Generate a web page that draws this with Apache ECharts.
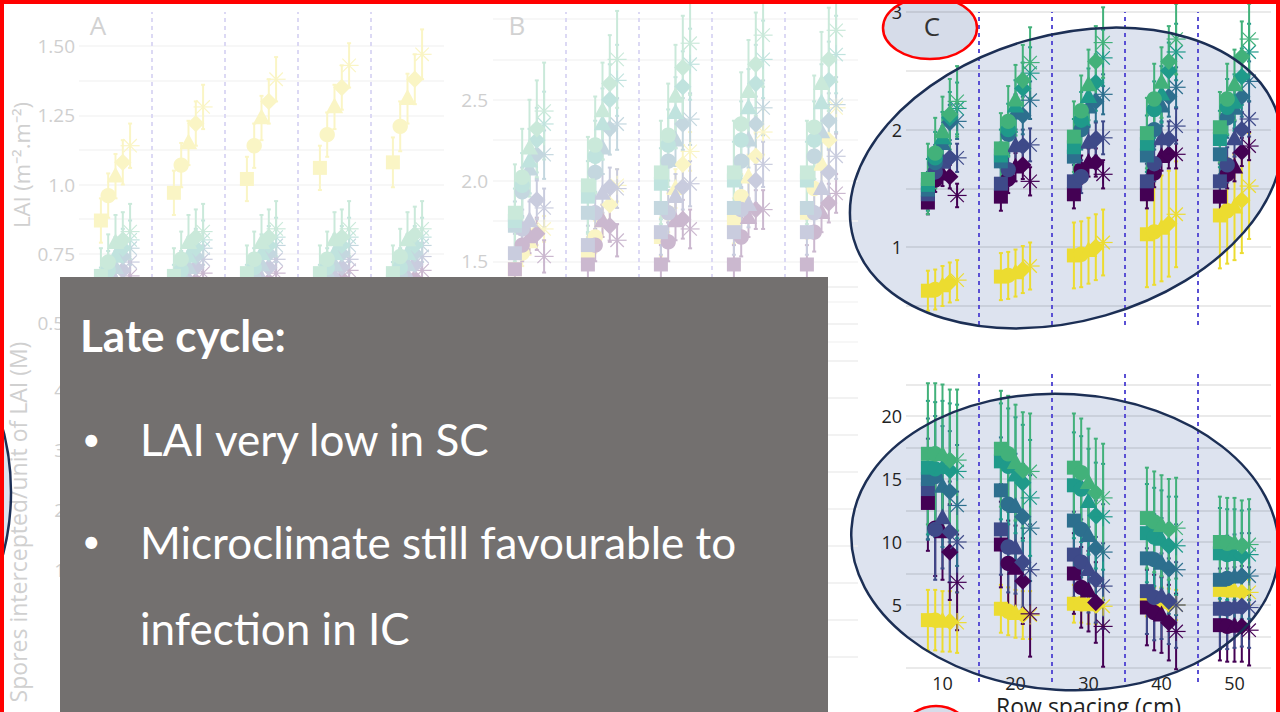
<!DOCTYPE html>
<html><head><meta charset="utf-8">
<script src="https://cdn.jsdelivr.net/npm/echarts@6/dist/echarts.min.js"></script>
<style>html,body{margin:0;padding:0;background:#fff;overflow:hidden}#c{width:1280px;height:712px}</style>
</head><body><div id="c"></div>
<script>
// ---------------- data ----------------
const rowSpacing = [10, 20, 30, 40, 50];
const separators = [15, 25, 35, 45];
const shapes = ['square', 'circle', 'triangle', 'diamond', 'asterisk'];
const drawOrder = ['yellow', 'dark', 'indigo', 'blue', 'teal', 'green'];

// Panel C, top: LAI (late cycle) — values per row spacing, per shape
const laiC_dark   = [[1.38,1.57,1.62,1.60,1.44],[1.43,1.58,1.68,1.70,1.56],[1.45,1.66,1.72,1.72,1.62],[1.45,1.63,1.77,1.79,1.79],[1.43,1.62,1.68,1.81,1.86]];
const laiC_indigo = [[1.45,1.64,1.72,1.76,1.76],[1.54,1.66,1.86,1.86,1.87],[1.56,1.60,1.89,1.92,1.93],[1.56,1.71,1.92,1.92,2.03],[1.56,1.70,1.92,2.00,2.09]];
const laiC_blue   = [[1.49,1.72,1.88,2.06,2.07],[1.73,1.96,2.14,2.12,2.25],[1.77,2.00,2.19,2.24,2.30],[1.78,2.00,2.20,2.28,2.36],[1.79,2.10,2.18,2.28,2.41]];
const laiC_teal   = [[1.53,1.76,1.93,2.10,2.18],[1.78,2.00,2.20,2.35,2.48],[1.85,2.08,2.28,2.40,2.61],[1.88,2.17,2.30,2.50,2.66],[1.92,2.19,2.23,2.45,2.66]];
const laiC_green  = [[1.58,1.80,1.98,2.13,2.24],[1.84,2.07,2.25,2.42,2.57],[1.94,2.16,2.38,2.58,2.74],[1.97,2.26,2.40,2.58,2.77],[2.02,2.26,2.38,2.62,2.77]];
const laiC_yellow = [[0.63,0.64,0.67,0.70,0.72],[0.75,0.76,0.78,0.81,0.84],[0.93,0.94,0.97,1.00,1.04],[1.11,1.13,1.16,1.20,1.28],[1.27,1.31,1.34,1.40,1.52]];
const laiC_err = {
  dark:[0.10,0.12,0.12,0.12,0.12], indigo:[0.12,0.14,0.14,0.15,0.15], blue:[0.15,0.16,0.17,0.17,0.17],
  teal:[0.22,0.22,0.24,0.24,0.24], green:[0.30,0.30,0.30,0.30,0.30], yellow:[0.17,0.20,0.28,0.45,0.45]
};

// Panel C, bottom: spores intercepted / unit of LAI
const sporesC_dark   = [[13.1,11.1,10.8,9.2,6.8],[9.8,8.3,7.9,6.9,4.3],[7.5,6.4,6.1,5.2,3.3],[4.8,4.4,4.2,3.6,2.9],[3.4,3.3,3.3,3.3,3.0]];
const sporesC_indigo = [[14.2,11.0,11.9,10.8,10.0],[11.0,9.6,9.5,8.4,7.8],[9.0,8.4,7.8,7.0,6.5],[6.1,5.6,5.7,5.3,5.0],[4.7,4.7,4.8,4.9,4.8]];
const sporesC_blue   = [[15.0,15.2,14.4,14.0,12.9],[14.1,13.0,12.8,12.0,11.1],[11.7,11.0,10.5,9.5,9.2],[8.7,8.6,8.3,7.9,7.8],[7.0,7.1,7.2,7.3,7.3]];
const sporesC_teal   = [[15.9,15.8,15.9,15.7,15.6],[16.4,16.0,15.3,14.7,13.5],[14.5,14.2,13.2,12.1,12.0],[10.7,10.4,10.2,9.7,9.7],[9.1,9.0,9.0,8.9,9.0]];
const sporesC_green  = [[17.0,17.0,16.9,16.5,16.5],[17.4,17.0,16.3,15.7,15.6],[15.9,15.5,14.7,13.9,13.5],[11.9,11.6,11.3,11.0,11.1],[10.0,9.9,9.9,9.7,9.8]];
const sporesC_yellow = [[3.8,3.8,3.7,3.7,3.6],[4.7,4.5,4.3,4.2,4.2],[5.1,5.1,5.0,5.0,4.9],[5.3,5.2,5.2,5.1,5.0],[6.2,6.2,6.1,6.0,6.0]];
const sporesC_err = {
  dark:[3.8,3.4,3.2,3.0,2.8], indigo:[4.0,3.6,3.4,3.4,3.2], blue:[4.8,4.2,3.8,3.6,3.4],
  teal:[5.3,4.6,4.2,3.9,3.6], green:[5.6,4.6,4.3,4.0,3.6], yellow:[2.4,1.9,1.5,1.2,1.0]
};

// Panel A (faded, top): LAI
const laiA_dark   = [[0.53,0.57,0.61,0.64,0.67],[0.54,0.58,0.62,0.65,0.68],[0.54,0.58,0.62,0.65,0.68],[0.55,0.59,0.63,0.66,0.69],[0.55,0.59,0.63,0.66,0.69]];
const laiA_indigo = [[0.57,0.61,0.65,0.69,0.72],[0.58,0.62,0.66,0.70,0.73],[0.58,0.62,0.66,0.70,0.73],[0.58,0.63,0.67,0.70,0.73],[0.59,0.63,0.67,0.71,0.74]];
const laiA_blue   = [[0.60,0.65,0.70,0.74,0.77],[0.61,0.66,0.70,0.74,0.77],[0.61,0.66,0.71,0.75,0.78],[0.61,0.66,0.71,0.75,0.78],[0.62,0.67,0.71,0.75,0.78]];
const laiA_teal   = [[0.63,0.69,0.74,0.77,0.80],[0.64,0.69,0.74,0.77,0.80],[0.64,0.70,0.75,0.78,0.81],[0.64,0.70,0.75,0.78,0.81],[0.65,0.70,0.75,0.78,0.81]];
const laiA_green  = [[0.67,0.72,0.79,0.80,0.83],[0.67,0.73,0.79,0.81,0.83],[0.68,0.73,0.79,0.81,0.84],[0.68,0.73,0.80,0.81,0.84],[0.68,0.74,0.80,0.82,0.84]];
const laiA_yellow = [[0.87,0.96,1.03,1.08,1.14],[0.97,1.07,1.15,1.22,1.28],[1.02,1.14,1.24,1.30,1.38],[1.06,1.18,1.28,1.35,1.43],[1.08,1.21,1.31,1.38,1.47]];
const laiA_err = {
  dark:[0.05,0.05,0.05,0.05,0.05], indigo:[0.05,0.05,0.05,0.05,0.05], blue:[0.06,0.06,0.06,0.06,0.06],
  teal:[0.07,0.07,0.07,0.07,0.07], green:[0.10,0.10,0.10,0.10,0.10], yellow:[0.08,0.08,0.08,0.08,0.09]
};

// Panel B (faded, top): LAI
const laiB_dark   = [[1.45,1.60,1.65,1.67,1.53],[1.48,1.60,1.75,1.72,1.63],[1.48,1.62,1.75,1.76,1.70],[1.48,1.65,1.77,1.82,1.82],[1.48,1.68,1.80,1.86,1.92]];
const laiB_indigo = [[1.55,1.70,1.75,1.88,1.83],[1.60,1.80,1.92,1.96,1.95],[1.68,1.80,1.90,1.96,1.98],[1.68,1.82,1.85,2.00,2.10],[1.68,1.80,1.95,2.05,2.15]];
const laiB_blue   = [[1.72,1.93,2.07,2.16,2.16],[1.80,2.05,2.20,2.32,2.35],[1.83,2.12,2.25,2.35,2.38],[1.83,2.12,2.25,2.35,2.45],[1.83,2.15,2.30,2.37,2.47]];
const laiB_teal   = [[1.75,1.97,2.12,2.25,2.35],[1.90,2.15,2.35,2.50,2.62],[1.98,2.22,2.42,2.58,2.72],[2.00,2.25,2.45,2.60,2.75],[2.00,2.25,2.48,2.62,2.78]];
const laiB_green  = [[1.80,2.02,2.20,2.32,2.43],[1.97,2.22,2.43,2.60,2.75],[2.05,2.28,2.52,2.70,2.85],[2.05,2.35,2.55,2.72,2.90],[2.05,2.33,2.60,2.75,2.93]];
const laiB_yellow = [[1.45,1.55,1.62,1.68,1.70],[1.55,1.65,1.75,1.85,1.97],[1.65,1.80,1.95,2.10,2.18],[1.75,1.90,2.02,2.15,2.30],[1.80,1.95,2.10,2.25,2.45]];
const laiB_err = {
  dark:[0.10,0.10,0.12,0.12,0.12], indigo:[0.12,0.12,0.14,0.14,0.14], blue:[0.15,0.16,0.16,0.17,0.17],
  teal:[0.20,0.22,0.22,0.24,0.24], green:[0.30,0.30,0.32,0.32,0.32], yellow:[0.08,0.10,0.12,0.14,0.16]
};

// ---------------- styling ----------------
const palette = {dark:'#440154', indigo:'#3e4a89', blue:'#2d6f8e', teal:'#1f9a8a', green:'#42b17a', yellow:'#ecdc30'};
const DODGE = 1.0;
function fade(hex, f) {
  const n = parseInt(hex.slice(1), 16);
  const r = (n >> 16) & 255, g = (n >> 8) & 255, b = n & 255;
  const m = c => Math.round(c + (255 - c) * f);
  return 'rgb(' + m(r) + ',' + m(g) + ',' + m(b) + ')';
}

function rows(vals, errs) {
  const out = [];
  rowSpacing.forEach((g, gi) => {
    shapes.forEach((s, k) => { out.push([g + (k - 2) * DODGE, vals[gi][k], errs[gi], k]); });
  });
  return out;
}

function errRender(color, lw) {
  return function (params, api) {
    const x = api.value(0), y = api.value(1), e = api.value(2);
    const lo = api.coord([x, y - e]), hi = api.coord([x, y + e]);
    const st = {stroke: color, lineWidth: lw};
    return {type: 'group', children: [
      {type: 'line', shape: {x1: lo[0], y1: lo[1], x2: hi[0], y2: hi[1]}, style: st},
      {type: 'line', shape: {x1: lo[0] - 2, y1: lo[1], x2: lo[0] + 2, y2: lo[1]}, style: st},
      {type: 'line', shape: {x1: hi[0] - 2, y1: hi[1], x2: hi[0] + 2, y2: hi[1]}, style: st}
    ]};
  };
}
function ptRender(color, s) {
  return function (params, api) {
    const p = api.coord([api.value(0), api.value(1)]);
    const k = api.value(3);
    const x = p[0], y = p[1];
    const st = {fill: color};
    if (k === 0) return {type: 'rect', shape: {x: x - s / 2, y: y - s / 2, width: s, height: s}, style: st};
    if (k === 1) return {type: 'circle', shape: {cx: x, cy: y, r: s * 0.55}, style: st};
    if (k === 2) return {type: 'polygon', shape: {points: [[x, y - s * 0.68], [x + s * 0.62, y + s * 0.45], [x - s * 0.62, y + s * 0.45]]}, style: st};
    if (k === 3) return {type: 'polygon', shape: {points: [[x, y - s * 0.62], [x + s * 0.62, y], [x, y + s * 0.62], [x - s * 0.62, y]]}, style: st};
    const r = s * 0.68, d = r * 0.707, ls = {stroke: color, lineWidth: 1.2};
    return {type: 'group', children: [
      {type: 'line', shape: {x1: x, y1: y - r, x2: x, y2: y + r}, style: ls},
      {type: 'line', shape: {x1: x - r, y1: y, x2: x + r, y2: y}, style: ls},
      {type: 'line', shape: {x1: x - d, y1: y - d, x2: x + d, y2: y + d}, style: ls},
      {type: 'line', shape: {x1: x - d, y1: y + d, x2: x + d, y2: y - d}, style: ls}
    ]};
  };
}

const series = [];
function addPanel(axisIdx, sets, errs, fadeF, lw) {
  const col = c => fadeF > 0 ? fade(palette[c], fadeF) : palette[c];
  drawOrder.forEach(c => {
    series.push({type: 'custom', xAxisIndex: axisIdx, yAxisIndex: axisIdx, silent: true,
      renderItem: errRender(col(c), lw), data: rows(sets[c], errs[c]), z: 3});
  });
  drawOrder.forEach(c => {
    series.push({type: 'custom', xAxisIndex: axisIdx, yAxisIndex: axisIdx, silent: true,
      renderItem: ptRender(col(c), 14), data: rows(sets[c], errs[c]), z: 4});
  });
}
function addSeparators(axisIdx, color) {
  series.push({type: 'custom', xAxisIndex: axisIdx, yAxisIndex: axisIdx, silent: true, z: 2,
    data: separators.map(v => [v, 0]),
    renderItem: function (params, api) {
      const a = api.coord([api.value(0), 0]), b = api.coord([api.value(0), 1]);
      return {type: 'line', shape: {x1: a[0], y1: a[1], x2: b[0], y2: b[1]},
        style: {stroke: color, lineWidth: 2, lineDash: [4, 4]}};
    }});
}

// grids: 0 A, 1 B, 2 C-top, 3 C-bottom, 4 A-sep, 5 B-sep, 6 C-top sep, 7 C-bottom sep, 8 A-bottom axis, 9 B-bottom axis
const grids = [
  {left: 79, width: 365, top: 46, height: 277},
  {left: 493, width: 365, top: 19, height: 323},
  {left: 906, width: 365, top: 12, height: 294},
  {left: 906, width: 365, top: 384.5, height: 283.5},
  {left: 79, width: 365, top: 12, height: 690},
  {left: 493, width: 365, top: 12, height: 690},
  {left: 906, width: 365, top: 12, height: 313},
  {left: 906, width: 365, top: 370, height: 312},
  {left: 79, width: 365, top: 330, height: 300},
  {left: 493, width: 365, top: 287, height: 370}
].map(g => Object.assign({outerBoundsMode: 'none', containLabel: false}, g));
const FONT = 'Open Sans';
const fadedTxt = '#cfcfcf';
const xAxes = grids.map((g, i) => ({type: 'value', gridIndex: i, min: 5, max: 55, show: false}));
xAxes[3] = {type: 'value', gridIndex: 3, min: 5, max: 55,
  axisLine: {show: false}, axisTick: {show: false}, splitLine: {show: false},
  axisLabel: {customValues: rowSpacing, fontSize: 18, lineHeight: 16, color: '#222', margin: 7, fontFamily: FONT},
  name: 'Row spacing (cm)', nameLocation: 'middle', nameGap: 28,
  nameTextStyle: {fontSize: 23, lineHeight: 20, color: '#222', fontFamily: FONT}};
const hid = {axisLine: {show: false}, axisTick: {show: false}};
const labA = {0.5: '0.50', 0.75: '0.75', 1: '1.0', 1.25: '1.25', 1.5: '1.50'};
const labB = {1.5: '1.5', 2: '2.0', 2.5: '2.5'};
const yAxes = [
  Object.assign({type: 'value', gridIndex: 0, min: 0.5, max: 1.5, interval: 0.125,
    axisLabel: {formatter: v => labA[v] || '', fontSize: 19, color: fadedTxt, margin: 4, fontFamily: FONT},
    splitLine: {lineStyle: {color: '#f4f4f4', width: 1.5}}}, hid),
  Object.assign({type: 'value', gridIndex: 1, min: 1, max: 3, interval: 0.25,
    axisLabel: {formatter: v => labB[v] || '', fontSize: 19, color: fadedTxt, margin: 5, fontFamily: FONT},
    splitLine: {lineStyle: {color: '#f4f4f4', width: 1.5}}}, hid),
  Object.assign({type: 'value', gridIndex: 2, min: 0.5, max: 3, interval: 0.5,
    axisLabel: {formatter: v => (v % 1 === 0 ? String(v) : ''), fontSize: 18, color: '#222', margin: 4, fontFamily: FONT},
    splitLine: {lineStyle: {color: 'rgba(0,0,0,0.11)', width: 1.6}}}, hid),
  Object.assign({type: 'value', gridIndex: 3, min: 0, max: 22.5, interval: 2.5,
    axisLabel: {formatter: v => (v > 0 && v % 5 === 0 ? String(v) : ''), fontSize: 18, color: '#222', margin: 4, fontFamily: FONT},
    splitLine: {lineStyle: {color: 'rgba(0,0,0,0.11)', width: 1.6}}}, hid),
  {type: 'value', gridIndex: 4, min: 0, max: 1, show: false},
  {type: 'value', gridIndex: 5, min: 0, max: 1, show: false},
  {type: 'value', gridIndex: 6, min: 0, max: 1, show: false},
  {type: 'value', gridIndex: 7, min: 0, max: 1, show: false},
  Object.assign({type: 'value', gridIndex: 8, min: 0, max: 5, interval: 1,
    axisLabel: {formatter: v => (v >= 1 && v <= 4 ? String(v) : ''), fontSize: 19, color: fadedTxt, margin: 14, fontFamily: FONT},
    splitLine: {show: false}}, hid),
  Object.assign({type: 'value', gridIndex: 9, min: 0, max: 10, interval: 1,
    axisLabel: {show: false}, splitLine: {lineStyle: {color: '#eeeeee', width: 1.5}}}, hid)
];

addSeparators(4, '#dcd9f4');
addSeparators(5, '#dcd9f4');
addSeparators(6, '#5a50d4');
addSeparators(7, '#5a50d4');
addPanel(0, {dark: laiA_dark, indigo: laiA_indigo, blue: laiA_blue, teal: laiA_teal, green: laiA_green, yellow: laiA_yellow}, laiA_err, 0.72, 2);
addPanel(1, {dark: laiB_dark, indigo: laiB_indigo, blue: laiB_blue, teal: laiB_teal, green: laiB_green, yellow: laiB_yellow}, laiB_err, 0.72, 2);
addPanel(2, {dark: laiC_dark, indigo: laiC_indigo, blue: laiC_blue, teal: laiC_teal, green: laiC_green, yellow: laiC_yellow}, laiC_err, 0, 2);
addPanel(3, {dark: sporesC_dark, indigo: sporesC_indigo, blue: sporesC_blue, teal: sporesC_teal, green: sporesC_green, yellow: sporesC_yellow}, sporesC_err, 0, 2);

// ---------------- annotations ----------------
const ovFill = '#dde3ef', navy = '#1c2f55', red = '#ff0000';
function ell(cx, cy, rx, ry, rot, fill, stroke, lw, z) {
  return {type: 'ellipse', x: cx, y: cy, rotation: rot, shape: {cx: 0, cy: 0, rx: rx, ry: ry},
    style: {fill: fill, stroke: stroke, lineWidth: lw}, z: z, silent: true};
}
const graphic = [
  ell(1066, 178, 221, 143, 0.28, ovFill, null, 0, -10),
  ell(1066, 178, 221, 143, 0.28, 'none', navy, 2.5, 60),
  ell(1065, 542, 214, 148, -0.06, ovFill, null, 0, -10),
  ell(1065, 542, 214, 148, -0.06, 'none', navy, 2.5, 60),
  ell(-149, 492, 160, 200, 0, ovFill, null, 0, -10),
  ell(-149, 492, 160, 200, 0, 'none', navy, 2.5, 60),
  ell(930, 28, 47, 31, 0, '#d6dce9', null, 0, -10),
  ell(930, 28, 47, 31, 0, 'none', red, 2.5, 60),
  ell(936, 748, 40, 42, 0, '#d6dce9', null, 0, -10),
  ell(936, 748, 40, 42, 0, 'none', red, 2.5, 60),
  {type: 'text', x: 932, y: 26, z: 5, silent: true, style: {text: 'C', font: '26px "Open Sans"', fill: '#333', align: 'center', verticalAlign: 'middle'}},
  {type: 'text', x: 98, y: 25, z: 5, silent: true, style: {text: 'A', font: '26px "Open Sans"', fill: '#d2d2d2', align: 'center', verticalAlign: 'middle'}},
  {type: 'text', x: 517, y: 25, z: 5, silent: true, style: {text: 'B', font: '26px "Open Sans"', fill: '#d2d2d2', align: 'center', verticalAlign: 'middle'}},
  {type: 'text', x: 21, y: 165, rotation: Math.PI / 2, z: 5, silent: true, style: {text: 'LAI (m⁻².m⁻²)', font: '22px "Open Sans"', fill: '#d0d0d0', align: 'center', verticalAlign: 'middle'}},
  {type: 'text', x: 18, y: 522, rotation: Math.PI / 2, z: 5, silent: true, style: {text: 'Spores intercepted/unit of LAI (M)', font: '23px "Open Sans"', fill: '#d0d0d0', align: 'center', verticalAlign: 'middle'}},
  {type: 'rect', shape: {x: 60, y: 277, width: 768, height: 450}, style: {fill: '#73706f'}, z: 100, silent: true},
  {type: 'text', x: 80, y: 335, z: 101, silent: true, style: {text: 'Late cycle:', font: 'bold 44px "Lato"', fill: '#fff', verticalAlign: 'middle'}},
  {type: 'text', x: 82, y: 438, z: 101, silent: true, style: {text: '•', font: '32px "Lato"', fill: '#fff', verticalAlign: 'middle'}},
  {type: 'text', x: 140, y: 439, z: 101, silent: true, style: {text: 'LAI very low in SC', font: '44px "Lato"', fill: '#fff', verticalAlign: 'middle'}},
  {type: 'text', x: 82, y: 540, z: 101, silent: true, style: {text: '•', font: '32px "Lato"', fill: '#fff', verticalAlign: 'middle'}},
  {type: 'text', x: 140, y: 542, z: 101, silent: true, style: {text: 'Microclimate still favourable to', font: '44px "Lato"', fill: '#fff', verticalAlign: 'middle'}},
  {type: 'text', x: 140, y: 628, z: 101, silent: true, style: {text: 'infection in IC', font: '44px "Lato"', fill: '#fff', verticalAlign: 'middle'}},
  {type: 'rect', shape: {x: 0, y: 0, width: 1280, height: 800}, style: {fill: 'none', stroke: red, lineWidth: 8}, z: 200, silent: true}
];

const chart = echarts.init(document.getElementById('c'), null, {renderer: 'svg'});
chart.setOption({
  animation: false,
  backgroundColor: '#ffffff',
  grid: grids,
  xAxis: xAxes,
  yAxis: yAxes,
  series: series,
  graphic: graphic
});
</script>
</body></html>
